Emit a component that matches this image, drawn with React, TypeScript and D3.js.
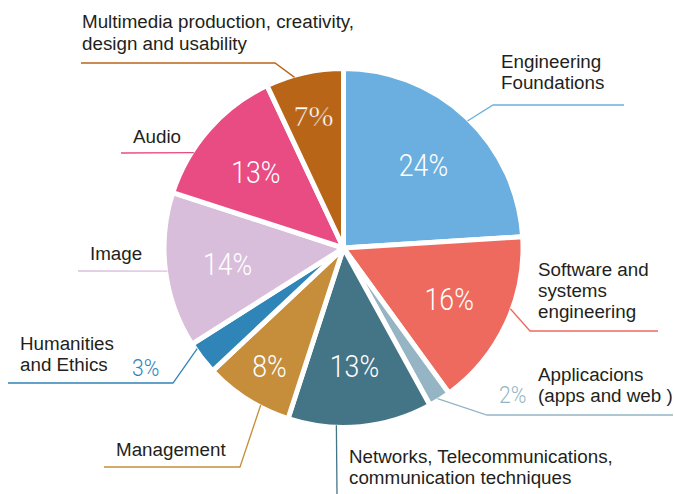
import React from "react";
import * as d3 from "d3";

const categories = [
  "Engineering Foundations",
  "Software and systems engineering",
  "Applicacions (apps and web )",
  "Networks, Telecommunications, communication techniques",
  "Management",
  "Humanities and Ethics",
  "Image",
  "Audio",
  "Multimedia production, creativity, design and usability",
];
const values = [24, 16, 2, 13, 8, 3, 14, 13, 7];
const colors = ["#6aafe0", "#ee6a5e", "#95b5c4", "#447586", "#c68d3a", "#2f84b8", "#d9bedc", "#e94c83", "#b86518"];

// layout of the outside labels (not data)
type Lbl = {
  lines: string[];
  x: number;
  y0: number;
  dy: number;
  angle: number; // degrees clockwise from top where leader touches pie
  pts: [number, number][]; // elbow/end of leader
  pct?: { x: number; y: number };
  inside: boolean;
};
const labels: Lbl[] = [
  { lines: ["Engineering", "Foundations"], x: 501, y0: 68, dy: 21, angle: 44.3, pts: [[493, 105], [624, 105]], inside: true },
  { lines: ["Software and", "systems", "engineering"], x: 538, y0: 276, dy: 21, angle: 110, pts: [[530, 331], [658, 331]], inside: true },
  { lines: ["Applicacions", "(apps and web )"], x: 538, y0: 381, dy: 21, angle: 148, pts: [[487, 415], [673, 415]], pct: { x: 499, y: 403 }, inside: false },
  { lines: ["Networks, Telecommunications,", "communication techniques"], x: 349, y0: 463, dy: 21, angle: 182.3, pts: [[337, 494]], inside: true },
  { lines: ["Management"], x: 116, y0: 456, dy: 21, angle: 207.8, pts: [[240, 467], [104, 467]], inside: true },
  { lines: ["Humanities", "and Ethics"], x: 20, y0: 350, dy: 21, angle: 235.5, pts: [[173, 383], [8, 383]], pct: { x: 132, y: 376 }, inside: false },
  { lines: ["Image"], x: 90, y0: 260, dy: 21, angle: 262.5, pts: [[78, 271]], inside: true },
  { lines: ["Audio"], x: 133, y0: 143, dy: 21, angle: 302.5, pts: [[121, 153]], inside: true },
  { lines: ["Multimedia production, creativity,", "design and usability"], x: 82, y0: 28, dy: 22, angle: 344, pts: [[275, 63], [81, 63]], inside: true },
];

const W = 674;
const H = 494;
const cx = 343.5;
const cy = 248;
const R = 179.5;

export default function App() {
  const pie = d3.pie<number>().sort(null).value((d) => d).startAngle(0).endAngle(2 * Math.PI);
  const arcs = pie(values);
  const arc = d3.arc<d3.PieArcDatum<number>>().innerRadius(0).outerRadius(R);
  const edge = (deg: number, r: number): [number, number] => {
    const a = (deg * Math.PI) / 180;
    return [cx + r * Math.sin(a), cy - r * Math.cos(a)];
  };
  const line = d3.line();

  return (
    <svg width={W} height={H} style={{ position: "absolute", left: 0, top: 0, background: "#fff" }}>
      <g transform={`translate(${cx},${cy})`}>
        {arcs.map((a, i) => (
          <path key={i} d={arc(a) || ""} fill={colors[i]} stroke="#fff" strokeWidth={5} strokeLinejoin="miter" />
        ))}
      </g>
      {labels.map((l, i) => {
        const start = edge(l.angle, 177.5);
        return (
          <path key={"ld" + i} d={line([start, ...l.pts]) || ""} fill="none" stroke={colors[i]} strokeWidth={1.3} />
        );
      })}
      {arcs.map((a, i) => {
        if (!labels[i].inside) return null;
        const mid = (a.startAngle + a.endAngle) / 2;
        const r = values[i] < 10 ? 0.78 * 177 : 0.66 * 177;
        const x = cx + r * Math.sin(mid);
        const y = cy - r * Math.cos(mid) + 2;
        const serif = i === 8;
        return (
          <text
            key={"p" + i}
            x={x}
            y={y}
            textAnchor="middle"
            dominantBaseline="central"
            fill="#fff"
            stroke={serif ? colors[i] : "none"}
            strokeWidth={serif ? 0.5 : 0}
            fontFamily={serif ? "'Liberation Serif', serif" : "Roboto, sans-serif"}
            fontWeight={serif ? 400 : 300}
            fontSize={serif ? 30 : 31}
            transform={serif ? undefined : `translate(${x},${y}) scale(0.86,1) translate(${-x},${-y})`}
          >
            {values[i]}%
          </text>
        );
      })}
      {labels.map((l, i) =>
        l.pct ? (
          <text
            key={"op" + i}
            x={l.pct.x}
            y={l.pct.y}
            fill={colors[i]}
            fontFamily="Roboto, sans-serif"
            fontWeight={300}
            fontSize={24}
            transform={`translate(${l.pct.x},${l.pct.y}) scale(0.88,1) translate(${-l.pct.x},${-l.pct.y})`}
          >
            {values[i]}%
          </text>
        ) : null
      )}
      {labels.map((l, i) => (
        <text key={"t" + i} fill="#231f20" fontFamily="'Liberation Sans', Arial, sans-serif" fontSize={18.8}>
          {l.lines.map((s, j) => (
            <tspan key={j} x={l.x} y={l.y0 + j * l.dy}>
              {s}
            </tspan>
          ))}
        </text>
      ))}
    </svg>
  );
}
